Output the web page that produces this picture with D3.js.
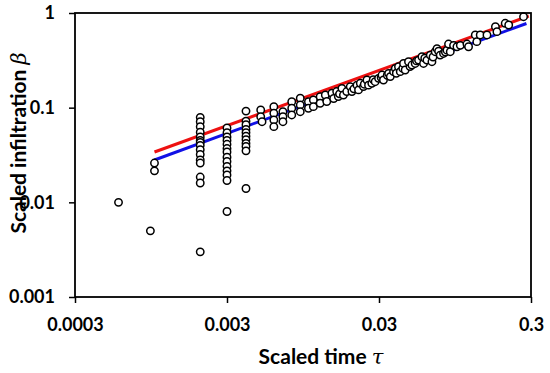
<!DOCTYPE html>
<html>
<head>
<meta charset="utf-8">
<script src="https://cdn.jsdelivr.net/npm/d3@7"></script>
<style>
html,body{margin:0;padding:0;background:#fff;}
svg{display:block;}
</style>
</head>
<body>
<svg id="chart" width="550" height="373"></svg>
<script>
// ---- data ----
const xTicks = [0.0003, 0.003, 0.03, 0.3];
const xTickLabels = ["0.0003", "0.003", "0.03", "0.3"];
const yTicks = [0.001, 0.01, 0.1, 1];
const yTickLabels = ["0.001", "0.01", "0.1", "1"];

// scatter: scaled time tau and scaled infiltration beta
const tauValues = [
  0.00058, 0.00094, 0.001, 0.001,
  0.002,0.002,0.002,0.002,0.002,0.002,0.002,0.002,0.002,0.002,0.002,0.002,0.002,0.002,0.002,
  0.003,0.003,0.003,0.003,0.003,0.003,0.003,0.003,0.003,0.003,0.003,0.003,0.003,0.003,
  0.004,0.004,0.004,0.004,0.004,0.004,0.004,0.004,0.004,0.004,0.004,
  0.005,0.005,0.0051,0.0061,0.0061,0.0061,0.0061,0.0070,0.0070,0.0070,
  0.0080,0.0080,0.0080,0.0091,0.0091,0.0091,0.0103,0.0103,0.0111,0.0111,0.0123,0.0123,
  0.0133,0.0136,0.0147,0.0151,0.0158,0.0162,0.0165,0.0171,0.0175,0.0184,0.0194,0.0199,
  0.0205,0.0215,0.0220,0.0226,0.0237,0.024,0.0250,0.0256,0.0269,0.0275,0.0283,0.0298,
  0.031,0.0314,0.0321,0.034,0.0347,0.0356,0.0374,0.0384,0.039,0.0403,0.0414,0.043,0.0435,
  0.0446,0.048,0.0469,0.0494,0.0519,0.053,0.0546,0.0575,0.0589,0.060,0.0620,0.0652,0.0669,
  0.068,0.0703,0.0722,0.074,0.0758,0.0797,0.082,0.0840,0.0860,0.0883,0.0928,0.0977,0.1028,
  0.1137,0.1165,0.129,0.132,0.139,0.154,0.175,0.179,0.203,0.214,0.268
];
const betaValues = [
  0.010, 0.005, 0.026, 0.0215,
  0.079,0.071,0.063,0.055,0.049,0.045,0.043,0.040,0.036,0.032,0.028,0.026,0.0185,0.016,0.003,
  0.061,0.0545,0.049,0.045,0.041,0.037,0.034,0.030,0.027,0.024,0.0215,0.0195,0.017,0.008,
  0.092,0.072,0.066,0.059,0.0545,0.050,0.046,0.042,0.039,0.035,0.014,
  0.0946,0.0804,0.0711,0.1025,0.0873,0.0741,0.063,0.0907,0.0804,0.0711,
  0.1157,0.0986,0.0838,0.1257,0.1068,0.0907,0.1157,0.0986,0.1206,0.1025,0.1307,0.1113,
  0.136,0.116,0.142,0.125,0.148,0.131,0.140,0.160,0.136,0.148,0.167,0.148,
  0.158,0.173,0.154,0.181,0.167,0.177,0.196,0.173,0.181,0.198,0.188,0.204,
  0.208,0.221,0.196,0.220,0.230,0.213,0.240,0.260,0.231,0.271,0.240,0.260,0.293,
  0.250,0.272,0.306,0.282,0.293,0.312,0.318,0.345,0.293,0.333,0.318,0.359,0.306,
  0.343,0.390,0.420,0.395,0.359,0.374,0.387,0.405,0.470,0.390,0.455,0.440,0.455,
  0.470,0.440,0.586,0.498,0.586,0.586,0.717,0.635,0.778,0.747,0.914
];

// fitted lines (endpoints)
const redTau = [0.001, 0.29];
const redBeta = [0.034, 0.93];
const blueTau = [0.001, 0.28];
const blueBeta = [0.028, 0.775];

// ---- drawing ----
const svg = d3.select("#chart");
const L = 75, R = 531, T = 13, B = 297;
const x = d3.scaleLog().domain([0.0003, 0.3]).range([L, R]);
const y = d3.scaleLog().domain([0.001, 1]).range([B, T]);

const font = "Lato, 'Open Sans', sans-serif";

// lines
function drawLine(ts, bs, color) {
  const pts = ts.map((t, i) => [t, bs[i]]);
  svg.append("path")
    .attr("d", d3.line().x(d => x(d[0])).y(d => y(d[1]))(pts))
    .attr("fill", "none").attr("stroke", color).attr("stroke-width", 3);
}
drawLine(redTau, redBeta, "#ee1111");
drawLine(blueTau, blueBeta, "#1111e6");

// points
const pts = tauValues.map((t, i) => [t, betaValues[i]]);
svg.append("g").selectAll("circle").data(pts).join("circle")
  .attr("cx", d => x(d[0])).attr("cy", d => y(d[1]))
  .attr("r", 3.7).attr("fill", "#fff").attr("stroke", "#000").attr("stroke-width", 1.5);

// frame
svg.append("rect").attr("x", L).attr("y", T).attr("width", R - L).attr("height", B - T)
  .attr("fill", "none").attr("stroke", "#000").attr("stroke-width", 1.8);

// axes
const xa = svg.append("g").attr("transform", `translate(0,${B})`)
  .call(d3.axisBottom(x).tickValues(xTicks).tickFormat((d, i) => xTickLabels[i])
    .tickSize(6).tickSizeOuter(0).tickPadding(15));
const ya = svg.append("g").attr("transform", `translate(${L},0)`)
  .call(d3.axisLeft(y).tickValues(yTicks).tickFormat((d, i) => yTickLabels[i])
    .tickSize(6).tickSizeOuter(0).tickPadding(14));
[xa, ya].forEach(g => {
  g.select(".domain").remove();
  g.selectAll(".tick line").attr("stroke", "#000").attr("stroke-width", 1.5);
  g.selectAll(".tick text").attr("fill", "#000")
    .style("font-family", font).style("font-weight", "bold").style("font-size", "18px");
});

// axis titles
const xt = svg.append("text").attr("x", 321).attr("y", 364).attr("text-anchor", "middle")
  .style("font-family", font).style("font-weight", "bold").style("font-size", "21px");
xt.append("tspan").text("Scaled time ");
xt.append("tspan").text("τ").style("font-family", "'DejaVu Serif', serif")
  .style("font-style", "italic").style("font-weight", "normal");

const yt = svg.append("text").attr("transform", "translate(26,143) rotate(-90)")
  .attr("text-anchor", "middle")
  .style("font-family", font).style("font-weight", "bold").style("font-size", "21px");
yt.append("tspan").text("Scaled infiltration ");
yt.append("tspan").text("β").style("font-family", "'DejaVu Serif', serif")
  .style("font-style", "italic").style("font-weight", "normal");
</script>
</body>
</html>
